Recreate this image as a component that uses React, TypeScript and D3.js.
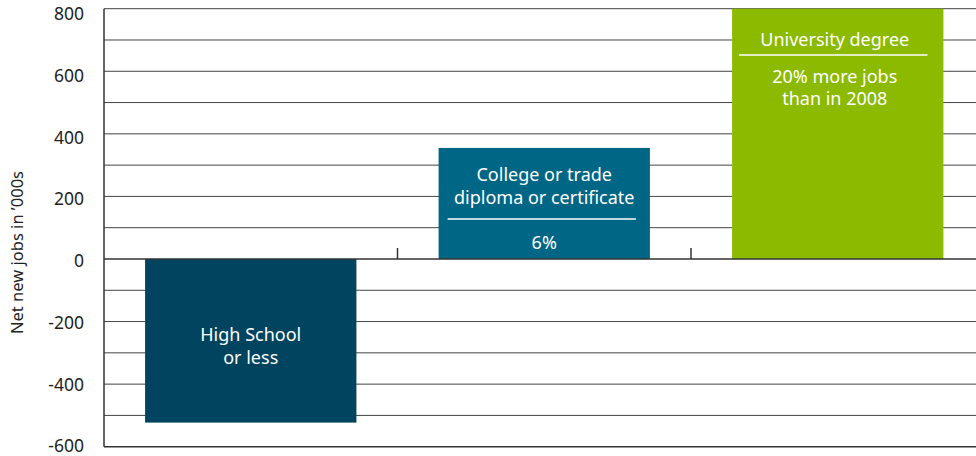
import { useMemo } from "react";
import * as d3 from "d3";

const categories = ["high", "college", "university"];
const values = [-523, 355, 800];
const barColors = ["#00445f", "#006685", "#8cba00"];
const barTitles = [["High School", "or less"], ["College or trade", "diploma or certificate"], ["University degree"]];
const barNotes = [[], ["6%"], ["20% more jobs", "than in 2008"]];
const yTicks = [-600, -400, -200, 0, 200, 400, 600, 800];
const gridValues = [-500, -400, -300, -200, -100, 100, 200, 300, 400, 500, 600, 700, 800];

const W = 976;
const H = 456;
const FONT = "'Noto Sans', 'Open Sans', sans-serif";

export default function App() {
  const x = useMemo(
    () => d3.scaleBand<string>().domain(categories).range([104, 984.5]).paddingInner(0.28).paddingOuter(0.14),
    [],
  );
  const y = useMemo(() => d3.scaleLinear().domain([-600, 800]).range([446.7, 8.7]), []);
  // tick labels sit a little below their lines near the top
  const yLabel = useMemo(() => d3.scaleLinear().domain([-600, 800]).range([446, 13.7]), []);

  const step = x.step();
  const boundaries = categories.slice(1).map((c) => (x(c) ?? 0) - (step - x.bandwidth()) / 2);
  const cx = (i: number) => (x(categories[i]) ?? 0) + x.bandwidth() / 2;

  return (
    <div style={{ position: "absolute", left: 0, top: 0, width: W, height: H, background: "#fff" }}>
      <svg width={W} height={H} style={{ display: "block", fontFamily: FONT }}>
        {gridValues.map((v) => (
          <line key={v} x1={104} x2={W} y1={y(v)} y2={y(v)} stroke="#444" strokeWidth={1} />
        ))}
        <line x1={104} x2={W} y1={y(-600)} y2={y(-600)} stroke="#333" strokeWidth={1.5} />
        {categories.map((c, i) => {
          const v = values[i];
          const top = Math.min(y(v), y(0));
          const h = Math.abs(y(v) - y(0));
          return <rect key={c} x={x(c) ?? 0} y={top} width={x.bandwidth()} height={h} fill={barColors[i]} />;
        })}
        <line x1={104} x2={W} y1={y(0)} y2={y(0)} stroke="#333" strokeWidth={1.5} />
        {boundaries.map((b) => (
          <line key={b} x1={b} x2={b} y1={y(0)} y2={y(0) - 11} stroke="#333" strokeWidth={1.5} />
        ))}
        <line x1={104} x2={104} y1={y(800)} y2={y(-600)} stroke="#333" strokeWidth={1.5} />
        {yTicks.map((t) => (
          <text key={t} x={84} y={yLabel(t)} dy="0.36em" textAnchor="end" fontSize={17.5} fill="#222">
            {t}
          </text>
        ))}
        <text
          transform="translate(17.5,252.5) rotate(-90)"
          textAnchor="middle"
          dy="0.35em"
          fontSize={16.5}
          fill="#222"
        >
          Net new jobs in ’000s
        </text>

        <g fill="#fff" fontSize={18} textAnchor="middle">
          {barTitles[0].map((t, k) => (
            <text key={t} x={cx(0)} y={335 + k * 23} dy="0.35em">
              {t}
            </text>
          ))}
          {barTitles[1].map((t, k) => (
            <text key={t} x={cx(1)} y={175 + k * 23} dy="0.35em">
              {t}
            </text>
          ))}
          <line
            x1={(x(categories[1]) ?? 0) + 9}
            x2={(x(categories[1]) ?? 0) + x.bandwidth() - 14}
            y1={219}
            y2={219}
            stroke="#fff"
            strokeWidth={1.5}
          />
          {barNotes[1].map((t) => (
            <text key={t} x={cx(1)} y={243} dy="0.35em">
              {t}
            </text>
          ))}
          {barTitles[2].map((t) => (
            <text key={t} x={cx(2) - 3} y={40} dy="0.35em">
              {t}
            </text>
          ))}
          <line
            x1={(x(categories[2]) ?? 0) + 7}
            x2={(x(categories[2]) ?? 0) + x.bandwidth() - 16}
            y1={55}
            y2={55}
            stroke="#fff"
            strokeWidth={1.5}
          />
          {barNotes[2].map((t, k) => (
            <text key={t} x={cx(2) - 3} y={77 + k * 22} dy="0.35em">
              {t}
            </text>
          ))}
        </g>
      </svg>
    </div>
  );
}
